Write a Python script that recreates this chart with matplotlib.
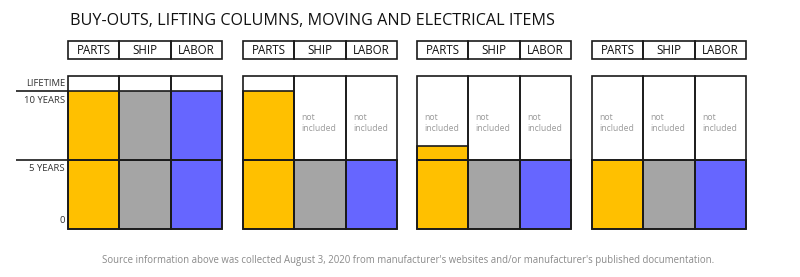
import matplotlib.pyplot as plt

# chart text and values
title = "BUY-OUTS, LIFTING COLUMNS, MOVING AND ELECTRICAL ITEMS"
categories = ["PARTS", "SHIP", "LABOR"]
parts_years = [10, 10, 6, 5]
ship_years = [10, 5, 5, 5]
labor_years = [10, 5, 5, 5]
# which columns show the "not included" note
not_included = [
    [False, False, False],
    [False, True, True],
    [True, True, True],
    [True, True, True],
]
row_labels = ["LIFETIME", "10 YEARS", "5 YEARS", "0"]
lifetime_top = 11.1
source = ("Source information above was collected August 3, 2020 from "
          "manufacturer's websites and/or manufacturer's published documentation.")

colors = ["#FFC000", "#A5A5A5", "#6666FF"]
edge = "#1a1a1a"
lw = 1.2

W, H = 800, 277
plt.rcParams['font.family'] = ['Open Sans', 'DejaVu Sans']
fig = plt.figure(figsize=(W / 100, H / 100), dpi=100)


def px_axes(x0, y0, x1, y1):
    # axes placed by pixel box (top-left origin)
    ax = fig.add_axes([x0 / W, 1 - y1 / H, (x1 - x0) / W, (y1 - y0) / H])
    ax.axis('off')
    return ax


fig.text(70 / W, 1 - 21 / H, title, fontsize=11.6, ha='left', va='center', color='#111111')

group_left = [68, 243, 417, 592]
group_w = 154
values = list(zip(parts_years, ship_years, labor_years))

for g, x0 in enumerate(group_left):
    # header boxes
    hx = px_axes(x0, 41, x0 + group_w, 59)
    hx.set_xlim(-0.5, 2.5)
    hx.set_ylim(0, 1)
    hx.bar(range(3), 1, width=1, fill=False, edgecolor=edge, linewidth=lw, clip_on=False)
    for i, c in enumerate(categories):
        hx.text(i, 0.5, c, ha='center', va='center', fontsize=8.3, color='#111111')

    # columns
    ax = px_axes(x0, 76, x0 + group_w, 229)
    ax.set_xlim(-0.5, 2.5)
    ax.set_ylim(0, lifetime_top)
    for i, v in enumerate(values[g]):
        ax.bar(i, min(v, 5), width=1, color=colors[i], edgecolor=edge, linewidth=lw, clip_on=False)
        if v > 5:
            ax.bar(i, v - 5, bottom=5, width=1, color=colors[i], edgecolor=edge,
                   linewidth=lw, clip_on=False)
        if not_included[g][i]:
            ax.text(i - 0.36, 7.7, "not\nincluded", ha='left', va='center',
                    fontsize=6.2, color='#9a9a9a', linespacing=1.3)
    ax.bar(range(3), lifetime_top, width=1, fill=False, edgecolor=edge,
           linewidth=lw, clip_on=False)
    ax.axhline(5, color=edge, linewidth=lw, clip_on=False)

# row labels on the left
lx = px_axes(16, 76, 68, 229)
lx.set_xlim(16, 68)
lx.set_ylim(0, lifetime_top)
lx.axhline(10, color=edge, linewidth=lw)
lx.axhline(5, color=edge, linewidth=lw)
label_y = [(10 + lifetime_top) / 2, 9.35, 4.4, 0.6]
for lab, y in zip(row_labels, label_y):
    lx.text(65, y, lab, ha='right', va='center', fontsize=6.8, color='#333333')

fig.text(408 / W, 1 - 260 / H, source, ha='center', va='center', fontsize=6.95, color='#8a8a8a')

fig.savefig("out.png", dpi=100, facecolor='white')
